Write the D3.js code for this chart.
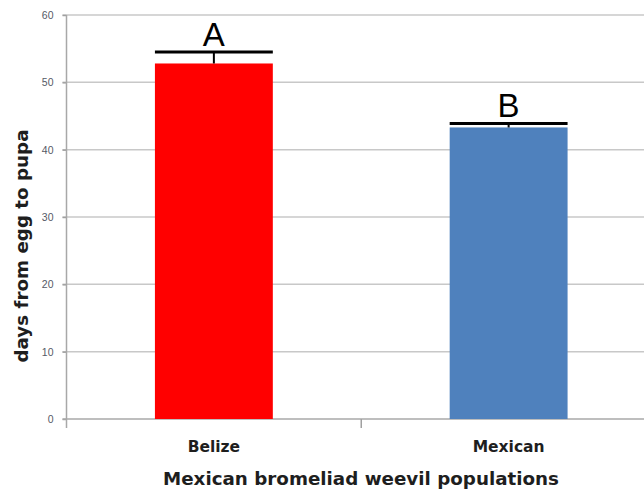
<!DOCTYPE html>
<html>
<head>
<meta charset="utf-8">
<script src="https://cdn.jsdelivr.net/npm/d3@7"></script>
<style>
  html, body { margin: 0; padding: 0; background: #fff; }
  svg { display: block; }
</style>
</head>
<body>
<svg id="chart" width="644" height="489"></svg>
<script>
// Development time per weevil population
const categories = ["Belize", "Mexican"];
const meanDays = [52.8, 43.3];
const errorTop = [54.5, 43.9];
const groupLetters = ["A", "B"];
const barColors = ["#ff0000", "#4f81bd"];
const yTicks = [0, 10, 20, 30, 40, 50, 60];

const svg = d3.select("#chart");
const plotLeft = 66.5, plotRight = 656, plotTop = 15, plotBottom = 419;
const labelFont = "DejaVu Sans, Verdana, sans-serif";

const x = d3.scaleBand().domain(categories).range([plotLeft, plotRight]).paddingInner(0).paddingOuter(0);
const y = d3.scaleLinear().domain([0, 60]).range([plotBottom, plotTop]);
const barW = x.bandwidth() * 0.4;

// horizontal gridlines
svg.append("g").selectAll("line").data(yTicks.filter(d => d > 0)).join("line")
  .attr("x1", plotLeft - 4).attr("x2", 644)
  .attr("y1", d => y(d)).attr("y2", d => y(d))
  .attr("stroke", "#c8c8c8").attr("stroke-width", 1.5);

// y axis
const yAxis = d3.axisLeft(y).tickValues(yTicks).tickSize(4).tickPadding(9);
const gy = svg.append("g").attr("transform", `translate(${plotLeft},0)`).call(yAxis);
gy.select(".domain").remove();
gy.selectAll(".tick line").attr("stroke", "#a0a0a0").attr("stroke-width", 1.5);
gy.selectAll(".tick text").attr("fill", "#555a66").attr("font-family", "Liberation Sans, Arial, sans-serif").attr("font-size", 10.5);
svg.append("line").attr("x1", plotLeft).attr("x2", plotLeft).attr("y1", plotTop).attr("y2", plotBottom + 9)
  .attr("stroke", "#a8a8a8").attr("stroke-width", 1.5);

// x axis baseline and category divider tick
svg.append("line").attr("x1", plotLeft - 4).attr("x2", 644).attr("y1", plotBottom).attr("y2", plotBottom)
  .attr("stroke", "#a8a8a8").attr("stroke-width", 1.5);
svg.append("line").attr("x1", x("Mexican")).attr("x2", x("Mexican")).attr("y1", plotBottom).attr("y2", plotBottom + 9)
  .attr("stroke", "#a0a0a0").attr("stroke-width", 1.5);

// bars
svg.append("g").selectAll("rect").data(categories).join("rect")
  .attr("x", d => x(d) + (x.bandwidth() - barW) / 2)
  .attr("width", barW)
  .attr("y", (d, i) => y(meanDays[i]))
  .attr("height", (d, i) => y(0) - y(meanDays[i]))
  .attr("fill", (d, i) => barColors[i]);

// error bars (upper only) with group letters
const eb = svg.append("g");
categories.forEach((c, i) => {
  const cx = x(c) + x.bandwidth() / 2;
  eb.append("line").attr("x1", cx).attr("x2", cx).attr("y1", y(meanDays[i])).attr("y2", y(errorTop[i]))
    .attr("stroke", "#000").attr("stroke-width", 2);
  eb.append("line").attr("x1", cx - barW / 2).attr("x2", cx + barW / 2)
    .attr("y1", y(errorTop[i])).attr("y2", y(errorTop[i]))
    .attr("stroke", "#000").attr("stroke-width", 3);
  eb.append("text").attr("x", cx).attr("y", y(errorTop[i]) - 6)
    .attr("text-anchor", "middle").attr("font-family", "Liberation Sans, Arial, sans-serif")
    .attr("font-size", 33).attr("fill", "#000").text(groupLetters[i]);
});

// category labels
svg.append("g").selectAll("text").data(categories).join("text")
  .attr("x", d => x(d) + x.bandwidth() / 2).attr("y", 452)
  .attr("text-anchor", "middle").attr("font-family", labelFont)
  .attr("font-weight", "bold").attr("font-size", 15.5).attr("fill", "#1e1e1e").text(d => d);

// axis titles
svg.append("text").attr("x", 361).attr("y", 485).attr("text-anchor", "middle")
  .attr("font-family", labelFont).attr("font-weight", "bold")
  .attr("font-size", 18.3).attr("fill", "#1e1e1e").text("Mexican bromeliad weevil populations");
svg.append("text").attr("transform", "translate(28,246) rotate(-90)").attr("text-anchor", "middle")
  .attr("font-family", labelFont).attr("font-weight", "bold")
  .attr("font-size", 18.3).attr("fill", "#1e1e1e").text("days from egg to pupa");
</script>
</body>
</html>
